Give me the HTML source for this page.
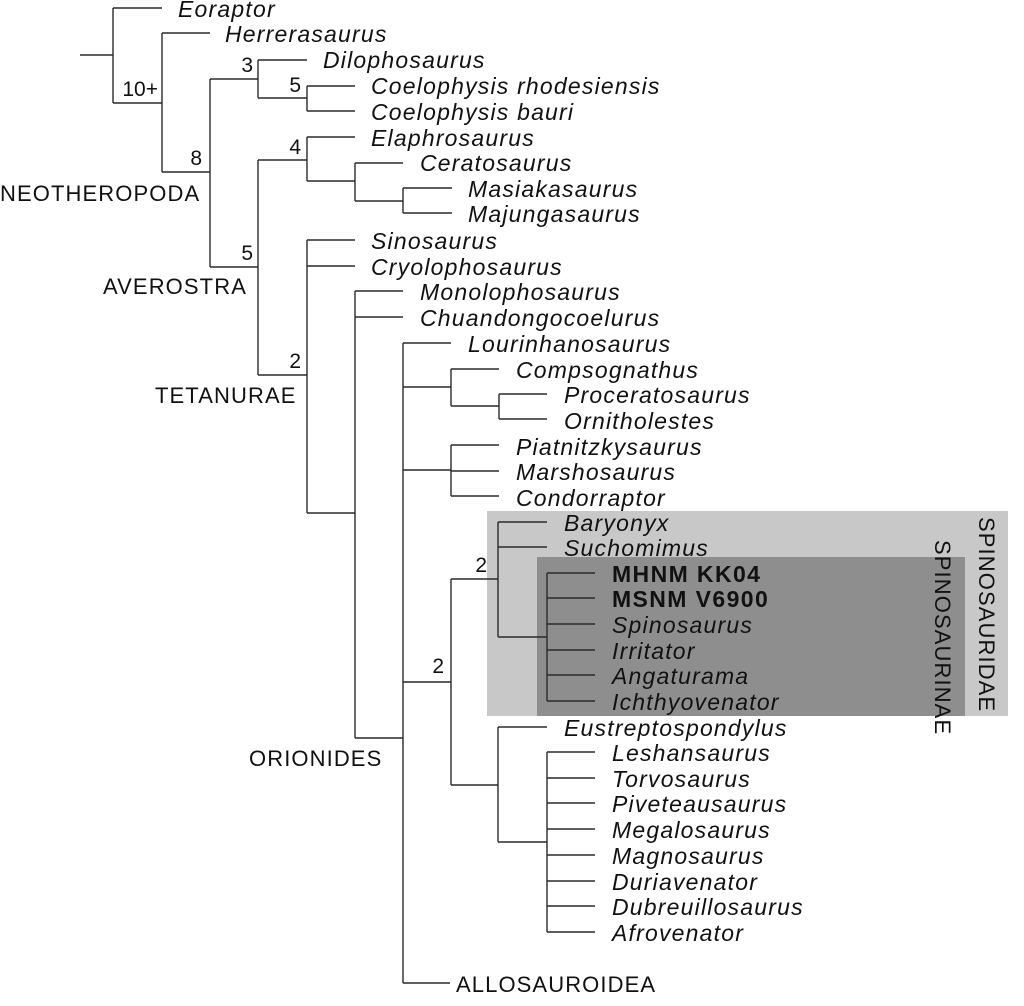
<!DOCTYPE html>
<html><head><meta charset="utf-8"><style>
html,body{margin:0;padding:0;background:#fff;}
svg{display:block;}
text{font-family:"Liberation Sans",Arial,sans-serif;font-size:22px;fill:#111;}
.i{font-style:italic;font-size:23px;letter-spacing:1.2px;}
.b{font-weight:bold;font-style:normal;font-size:23px;letter-spacing:1.4px;}
.u{letter-spacing:1.1px;}
.n{font-size:21px;text-anchor:end;}
</style></head><body>
<svg width="1024" height="1006" viewBox="0 0 1024 1006" xmlns="http://www.w3.org/2000/svg">
<rect x="487" y="511" width="521" height="205" fill="#c8c8c8"/>
<rect x="537" y="557" width="428" height="159" fill="#8e8e8e"/>
<g stroke="#2a2a2a" stroke-width="1.4" fill="none">
<path d="M80 55H113M113 8V103M113 8H162M113 103H162"/>
<path d="M162 33V172M162 33H210M162 172H210"/>
<path d="M210 79V267M210 79H258M210 267H258"/>
<path d="M258 60V98M258 60H307M258 98H307M307 86V111M307 86H355M307 111H355"/>
<path d="M258 160V375M258 160H307M258 375H307"/>
<path d="M307 137V181M307 137H355M307 181H355M355 163V201M355 163H403M355 201H403M403 188V213M403 188H452M403 213H452"/>
<path d="M307 240V513M307 240H355M307 266H355M307 513H355"/>
<path d="M355 291V738M355 291H403M355 317H403M355 738H403"/>
<path d="M403 343V983M403 343H451M403 983H450"/>
<path d="M403 387H451M451 369V406M451 369H499M451 406H499M499 394V419M499 394H547M499 419H547"/>
<path d="M403 470H451M451 445V496M451 445H499M451 471H499M451 496H499"/>
<path d="M403 682H451M451 579V785M451 579H498M451 785H498"/>
<path d="M498 522V637M498 522H547M498 547H547M498 637H547"/>
<path d="M547 573V701M547 573H595M547 598H595M547 624H595M547 650H595M547 675H595M547 701H595"/>
<path d="M498 727V842M498 727H547M498 842H547"/>
<path d="M547 752V932M547 752H595M547 778H595M547 803H595M547 829H595M547 855H595M547 881H595M547 906H595M547 932H595"/>
</g>
<text class="i" x="178" y="17">Eoraptor</text>
<text class="i" x="225" y="42">Herrerasaurus</text>
<text class="i" x="323" y="68">Dilophosaurus</text>
<text class="i" x="371" y="94">Coelophysis rhodesiensis</text>
<text class="i" x="371" y="120">Coelophysis bauri</text>
<text class="i" x="371" y="146">Elaphrosaurus</text>
<text class="i" x="420" y="171">Ceratosaurus</text>
<text class="i" x="468" y="197">Masiakasaurus</text>
<text class="i" x="468" y="222">Majungasaurus</text>
<text class="i" x="371" y="249">Sinosaurus</text>
<text class="i" x="371" y="275">Cryolophosaurus</text>
<text class="i" x="420" y="300">Monolophosaurus</text>
<text class="i" x="420" y="326">Chuandongocoelurus</text>
<text class="i" x="468" y="352">Lourinhanosaurus</text>
<text class="i" x="516" y="378">Compsognathus</text>
<text class="i" x="564" y="403">Proceratosaurus</text>
<text class="i" x="564" y="429">Ornitholestes</text>
<text class="i" x="516" y="455">Piatnitzkysaurus</text>
<text class="i" x="516" y="480">Marshosaurus</text>
<text class="i" x="516" y="506">Condorraptor</text>
<text class="i" x="564" y="531">Baryonyx</text>
<text class="i" x="564" y="556">Suchomimus</text>
<text class="b" x="612" y="582">MHNM KK04</text>
<text class="b" x="612" y="607">MSNM V6900</text>
<text class="i" x="612" y="633">Spinosaurus</text>
<text class="i" x="612" y="659">Irritator</text>
<text class="i" x="612" y="684">Angaturama</text>
<text class="i" x="612" y="710">Ichthyovenator</text>
<text class="i" x="564" y="736">Eustreptospondylus</text>
<text class="i" x="612" y="761">Leshansaurus</text>
<text class="i" x="612" y="787">Torvosaurus</text>
<text class="i" x="612" y="812">Piveteausaurus</text>
<text class="i" x="612" y="838">Megalosaurus</text>
<text class="i" x="612" y="864">Magnosaurus</text>
<text class="i" x="612" y="890">Duriavenator</text>
<text class="i" x="612" y="915">Dubreuillosaurus</text>
<text class="i" x="612" y="941">Afrovenator</text>
<text class="u" x="0" y="201">NEOTHEROPODA</text>
<text class="u" x="103" y="294">AVEROSTRA</text>
<text class="u" x="155" y="403">TETANURAE</text>
<text class="u" x="249" y="766">ORIONIDES</text>
<text class="u" x="456" y="992">ALLOSAUROIDEA</text>
<text class="u" transform="translate(979,517) rotate(90)">SPINOSAURIDAE</text>
<text class="u" transform="translate(935,540) rotate(90)">SPINOSAURINAE</text>
<text class="n" x="158" y="96">10+</text>
<text class="n" x="202" y="165">8</text>
<text class="n" x="253" y="72">3</text>
<text class="n" x="301" y="92">5</text>
<text class="n" x="301" y="154">4</text>
<text class="n" x="253" y="260">5</text>
<text class="n" x="301" y="368">2</text>
<text class="n" x="444" y="673">2</text>
<text class="n" x="487" y="572">2</text>
</svg>
</body></html>
